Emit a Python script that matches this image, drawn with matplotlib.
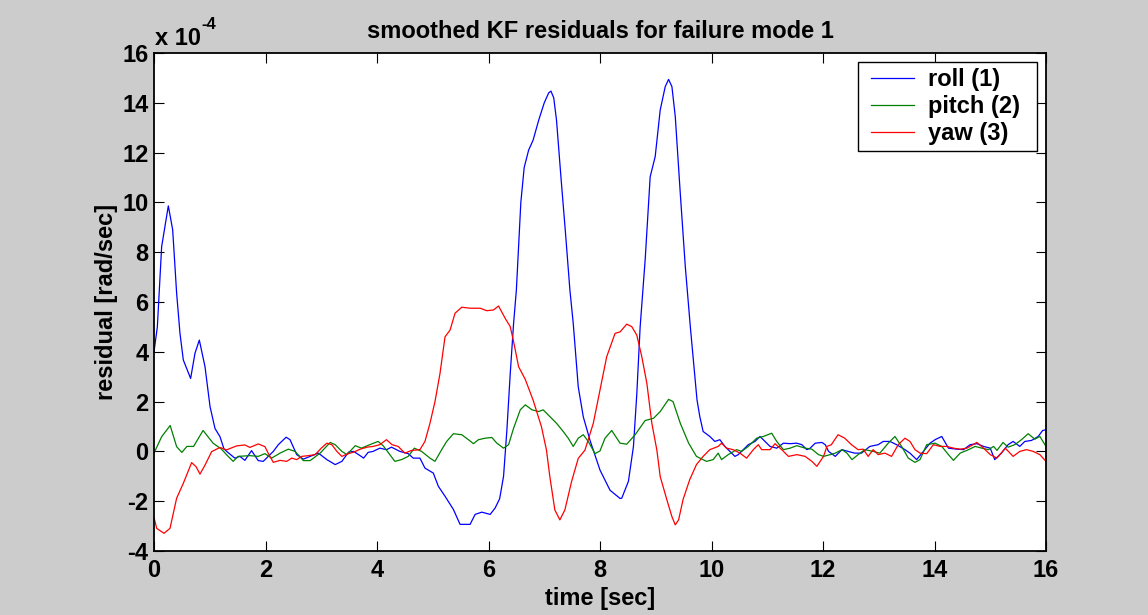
import matplotlib
matplotlib.use("Agg")
import matplotlib.pyplot as plt
from matplotlib.lines import Line2D
from matplotlib.legend_handler import HandlerLine2D

# ---- data (values in units of 1e-4 rad/sec) ----
roll_t = [0, 0.06, 0.137, 0.257, 0.335, 0.406, 0.466, 0.526, 0.657, 0.735, 0.813, 0.915, 1.005, 1.094,
          1.184, 1.255, 1.33, 1.45, 1.54, 1.63, 1.75, 1.87, 1.96, 2.14, 2.23, 2.37, 2.44, 2.56, 2.68, 2.8,
          2.95, 3.1, 3.25, 3.37, 3.49, 3.58, 3.67, 3.76, 3.84, 3.93, 4.05, 4.17, 4.26, 4.41, 4.56, 4.65,
          4.77, 4.86, 5.01, 5.1, 5.22, 5.37, 5.49, 5.67, 5.76, 5.88, 6.03, 6.12, 6.2, 6.27, 6.33, 6.39,
          6.45, 6.5, 6.58, 6.64, 6.72, 6.8, 6.9, 7.0, 7.08, 7.12, 7.17, 7.22, 7.3, 7.38, 7.46, 7.52, 7.61,
          7.7, 7.82, 8.0, 8.18, 8.36, 8.39, 8.51, 8.6, 8.66, 8.72, 8.81, 8.9, 8.99, 9.08, 9.17, 9.23,
          9.29, 9.35, 9.44, 9.53, 9.62, 9.74, 9.79, 9.85, 9.97, 10.06, 10.15, 10.24, 10.33, 10.42, 10.48,
          10.57, 10.66, 10.78, 10.87, 10.96, 11.05, 11.17, 11.29, 11.41, 11.53, 11.62, 11.71, 11.77,
          11.86, 11.98, 12.04, 12.1, 12.22, 12.34, 12.45, 12.57, 12.69, 12.84, 12.99, 13.08, 13.2, 13.32,
          13.47, 13.56, 13.68, 13.8, 13.92, 14.01, 14.13, 14.25, 14.4, 14.52, 14.64, 14.76, 14.88, 15.0,
          15.08, 15.2, 15.32, 15.41, 15.53, 15.62, 15.74, 15.86, 15.94, 16.0]
roll_v = [4.0, 5.0, 8.22, 9.86, 8.9, 6.35, 4.74, 3.67, 2.93, 3.94, 4.47, 3.4, 1.8, 0.92,
          0.59, 0.1, -0.05, -0.27, -0.2, -0.36, 0.03, -0.37, -0.4, 0.0, 0.27, 0.57, 0.47, -0.13, -0.31, -0.2,
          -0.07, -0.33, -0.53, -0.4, -0.03, 0.0, -0.13, -0.27, -0.04, 0.0, 0.13, 0.07, 0.17, 0.0, -0.09, -0.27,
          -0.27, -0.67, -0.87, -1.4, -1.8, -2.33, -2.93, -2.93, -2.53, -2.44, -2.53, -2.27, -1.9, -1.0, 0.86, 3.13,
          5.14, 6.48, 10.0, 11.4, 12.1, 12.5, 13.3, 14.0, 14.4, 14.47, 14.2, 13.3, 11.0, 8.8, 6.48, 5.14, 2.59,
          1.39, 0.45, -0.75, -1.56, -1.89, -1.88, -1.2, 0.2, 2.3, 5.0, 7.69, 11.03, 11.84, 13.71, 14.65, 14.94,
          14.65, 13.45, 10.36, 7.42, 5.01, 2.07, 1.4, 0.8, 0.6, 0.4, 0.47, 0.2, 0.0, -0.2, -0.13,
          0.07, 0.27, 0.4, 0.6, 0.4, 0.2, 0.13, 0.33, 0.31, 0.33, 0.27, 0.07, 0.13,
          0.33, 0.36, 0.27, 0.0, -0.2, 0.07, 0.0, -0.07, -0.07, 0.2, 0.27, 0.4, 0.4, 0.27,
          0.07, -0.07, -0.33, 0.0, 0.33, 0.47, 0.6, 0.13, 0.09, 0.07, 0.27, 0.31, 0.2, 0.13,
          -0.33, -0.07, 0.27, 0.4, 0.2, 0.4, 0.44, 0.6, 0.84, 0.87]

pitch_t = [0, 0.137, 0.29, 0.406, 0.5, 0.59, 0.71, 0.88, 1.06, 1.21, 1.33, 1.42, 1.51, 1.72, 1.87, 1.99,
           2.11, 2.26, 2.41, 2.53, 2.68, 2.8, 2.98, 3.16, 3.25, 3.37, 3.46, 3.61, 3.72, 3.87, 4.02, 4.11,
           4.23, 4.32, 4.44, 4.56, 4.67, 4.8, 4.95, 5.04, 5.16, 5.25, 5.37, 5.52, 5.64, 5.73, 5.82, 5.94,
           6.06, 6.15, 6.27, 6.36, 6.45, 6.57, 6.66, 6.78, 6.9, 6.98, 7.1, 7.22, 7.34, 7.43, 7.52, 7.61,
           7.7, 7.79, 7.91, 8.0, 8.09, 8.21, 8.36, 8.48, 8.63, 8.81, 8.96, 9.08, 9.23, 9.31, 9.44, 9.59,
           9.73, 9.91, 10.03, 10.12, 10.18, 10.3, 10.45, 10.54, 10.66, 10.81, 10.93, 11.08, 11.17, 11.29,
           11.41, 11.53, 11.68, 11.8, 11.92, 12.01, 12.13, 12.22, 12.34, 12.43, 12.52, 12.63, 12.75, 12.9,
           13.02, 13.17, 13.29, 13.41, 13.53, 13.65, 13.74, 13.86, 14.01, 14.13, 14.25, 14.34, 14.46,
           14.61, 14.73, 14.85, 14.97, 15.06, 15.12, 15.23, 15.32, 15.44, 15.56, 15.68, 15.8, 15.89, 16.0]
pitch_v = [-0.07, 0.59, 1.04, 0.19, -0.04, 0.2, 0.2, 0.84, 0.33, 0.09, -0.2, -0.4, -0.2, -0.17, -0.2, -0.09,
           -0.27, -0.07, 0.09, 0.0, -0.37, -0.37, -0.07, 0.36, 0.27, 0.0, -0.13, 0.23, 0.13, 0.27, 0.4, 0.23,
           -0.13, -0.4, -0.33, -0.2, 0.13, 0.0, -0.27, -0.4, 0.07, 0.4, 0.71, 0.67, 0.47, 0.31, 0.47, 0.53,
           0.56, 0.33, 0.13, 0.27, 0.93, 1.67, 1.87, 1.67, 1.6, 1.67, 1.4, 1.13, 0.8, 0.53, 0.2, 0.53,
           0.67, 0.4, -0.09, 0.02, 0.53, 0.84, 0.33, 0.29, 0.67, 1.24, 1.33, 1.6, 2.09, 2.0, 1.13, 0.33,
           -0.2, -0.4, -0.33, -0.07, -0.33, -0.13, 0.07, 0.0, 0.2, 0.53, 0.6, 0.73, 0.4, 0.07,
           0.13, 0.23, 0.13, 0.09, -0.13, -0.2, -0.13, -0.07, 0.07, -0.07, -0.33, -0.13, 0.07, 0.0,
           -0.07, 0.33, 0.6, 0.2, -0.27, -0.44, -0.33, 0.27, 0.33, 0.2, -0.13, -0.36, -0.07,
           0.07, 0.2, 0.13, 0.07, 0.2, 0.04, 0.36, 0.17, 0.27, 0.47, 0.71, 0.49, 0.6, 0.2]

yaw_t = [0, 0.048, 0.179, 0.287, 0.406, 0.526, 0.675, 0.753, 0.825, 0.915, 1.034, 1.184, 1.3, 1.48, 1.63,
         1.72, 1.87, 1.99, 2.05, 2.14, 2.26, 2.38, 2.47, 2.56, 2.65, 2.77, 2.89, 3.0, 3.1, 3.19, 3.28, 3.37,
         3.46, 3.58, 3.7, 3.82, 3.93, 4.05, 4.17, 4.27, 4.38, 4.5, 4.62, 4.77, 4.86, 4.95, 5.04, 5.13, 5.22,
         5.31, 5.4, 5.52, 5.67, 5.85, 5.97, 6.09, 6.18, 6.3, 6.39, 6.45, 6.54, 6.66, 6.8, 6.95, 7.04, 7.1,
         7.19, 7.28, 7.37, 7.49, 7.61, 7.73, 7.88, 8.0, 8.12, 8.27, 8.36, 8.48, 8.57, 8.66, 8.75, 8.84, 8.93,
         9.02, 9.08, 9.2, 9.29, 9.35, 9.41, 9.49, 9.61, 9.73, 9.85, 9.97, 10.12, 10.18, 10.27, 10.39, 10.51,
         10.63, 10.75, 10.84, 10.9, 11.05, 11.14, 11.26, 11.38, 11.53, 11.68, 11.8, 11.89, 12.01, 12.07,
         12.15, 12.27, 12.39, 12.51, 12.63, 12.72, 12.81, 12.9, 12.99, 13.11, 13.23, 13.35, 13.47, 13.56,
         13.65, 13.74, 13.86, 13.98, 14.1, 14.22, 14.34, 14.46, 14.58, 14.76, 14.88, 15.0, 15.12, 15.27,
         15.41, 15.53, 15.65, 15.77, 15.89, 16.0]
yaw_v = [-2.65, -3.09, -3.29, -3.09, -1.88, -1.28, -0.45, -0.61, -0.91, -0.55, -0.01, 0.16, 0.06, 0.22, 0.26,
         0.16, 0.3, 0.19, -0.08, -0.44, -0.36, -0.4, -0.27, -0.33, -0.2, -0.17, -0.13, 0.13, 0.33, 0.27, 0.0, -0.2,
         -0.11, -0.03, 0.09, 0.17, 0.2, 0.27, 0.47, 0.27, 0.2, -0.07, 0.04, 0.07, 0.4, 1.13, 2.0, 3.13, 4.6,
         4.87, 5.55, 5.79, 5.75, 5.75, 5.65, 5.68, 5.84, 5.34, 5.01, 4.41, 3.4, 2.89, 2.06, 0.99, 0.05, -1.01,
         -2.35, -2.75, -2.35, -1.21, -0.28, 0.05, 1.13, 2.47, 3.8, 4.74, 4.8, 5.11, 5.01, 4.67, 3.8, 2.74, 1.13,
         0.05, -1.01, -1.95, -2.62, -2.95, -2.75, -1.93, -1.13, -0.53, -0.2, 0.07, 0.2, 0.33, 0.13, 0.07, -0.07,
         -0.27, 0.07, 0.27, 0.07, 0.07, 0.31, 0.07, -0.2, -0.13, -0.2, -0.4, -0.6, -0.2, 0.2,
         0.27, 0.67, 0.53, 0.27, 0.07, 0.09, -0.2, 0.07, -0.13, -0.07, -0.2, 0.27, 0.53, 0.4,
         0.07, -0.07, -0.09, 0.27, 0.2, 0.2, 0.13, 0.09, 0.13, 0.36, 0.13, -0.13, -0.27, 0.13,
         -0.2, 0.0, 0.07, 0.0, -0.13, -0.4]

series_labels = ["roll (1)", "pitch (2)", "yaw (3)"]
series_colors = ["#0000ff", "#008000", "#ff0000"]
x_ticks = [0, 2, 4, 6, 8, 10, 12, 14, 16]
y_ticks = [-4, -2, 0, 2, 4, 6, 8, 10, 12, 14, 16]

# ---- figure ----
FONT = "Liberation Sans"
FS = 17
W, H = 1148, 615
fig = plt.figure(figsize=(W / 100, H / 100), dpi=100, facecolor="#cccccc")
L, R, T, B = 154, 1046, 53, 551
ax = fig.add_axes([L / W, 1 - B / H, (R - L) / W, (B - T) / H])
ax.set_facecolor("white")

for (tt, vv), lab, col in zip([(roll_t, roll_v), (pitch_t, pitch_v), (yaw_t, yaw_v)],
                              series_labels, series_colors):
    ax.plot(tt, vv, color=col, linewidth=0.9, label=lab)

ax.set_xlim(0, 16)
ax.set_ylim(-4, 16)
ax.set_xticks(x_ticks)
ax.set_yticks(y_ticks)
ax.set_xticklabels([str(v) for v in x_ticks], fontsize=FS, fontweight="bold", family=FONT)
ax.set_yticklabels([str(v) for v in y_ticks], fontsize=FS, fontweight="bold", family=FONT)
ax.tick_params(direction="in", length=7, width=0.8, top=True, right=True, colors="black")
ax.tick_params(axis="x", pad=6)
ax.tick_params(axis="y", pad=4)
for s in ax.spines.values():
    s.set_linewidth(1.3)
    s.set_color("black")

ax.set_xlabel("time [sec]", fontsize=FS, fontweight="bold", family=FONT, labelpad=3)
ax.set_ylabel("residual [rad/sec]", fontsize=FS, fontweight="bold", family=FONT, labelpad=3)
ax.set_title("smoothed KF residuals for failure mode 1", fontsize=FS, fontweight="bold",
             family=FONT, pad=11)

# exponent label (MATLAB style)
fig.text(155 / W, 1 - 45 / H, "x 10", fontsize=FS, fontweight="bold", family=FONT,
         ha="left", va="baseline")
fig.text(201 / W, 1 - 29 / H, "-4", fontsize=12, fontweight="bold", family=FONT,
         ha="left", va="baseline")

# legend box spanning x 858..1037, top at y 62
lx0 = (858 - L) / (R - L)
lx1 = (1037 - L) / (R - L)
ltop = (B - 62) / (B - T)
leg = ax.legend(loc="upper left", bbox_to_anchor=(lx0, ltop - 0.2, lx1 - lx0, 0.2), mode="expand",
                borderaxespad=0, fancybox=False, edgecolor="black", framealpha=1,
                prop={"family": FONT, "weight": "bold", "size": FS},
                handler_map={Line2D: HandlerLine2D(xpad=0.3)},
                handlelength=2.12, handletextpad=0.6, labelspacing=0.17, borderpad=0.25)
leg.get_frame().set_linewidth(1.0)

fig.savefig("out.png", dpi=100, facecolor=fig.get_facecolor())
